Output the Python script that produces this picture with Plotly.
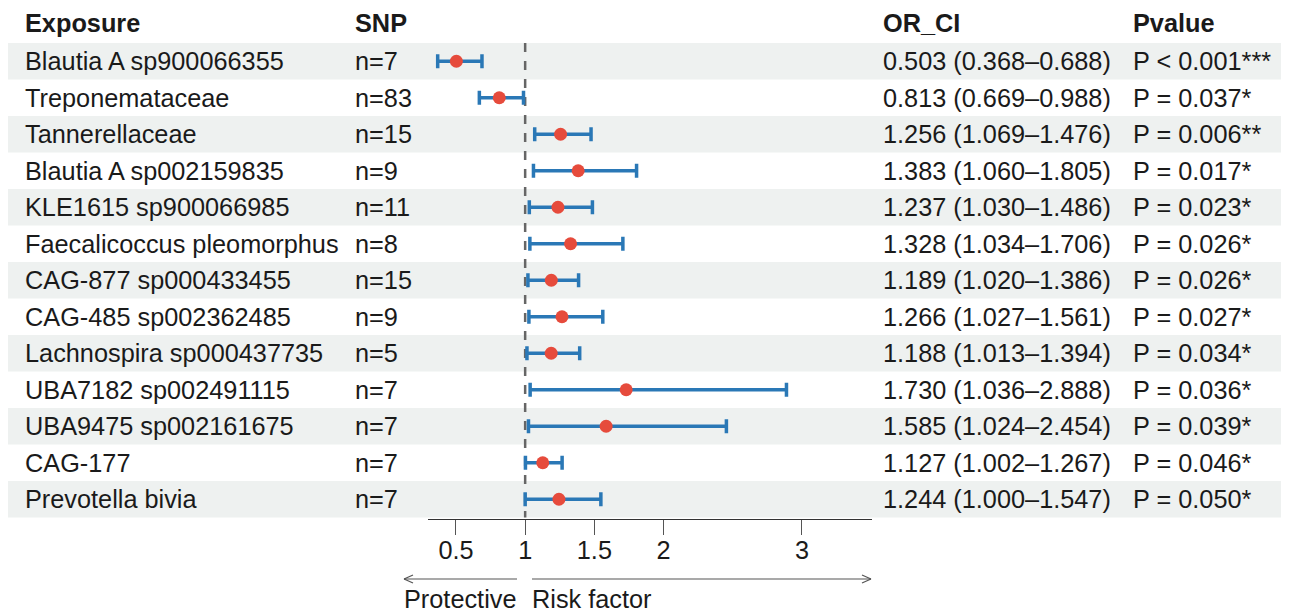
import plotly.graph_objects as go

exposure = ["Blautia A sp900066355", "Treponemataceae", "Tannerellaceae", "Blautia A sp002159835",
            "KLE1615 sp900066985", "Faecalicoccus pleomorphus", "CAG-877 sp000433455",
            "CAG-485 sp002362485", "Lachnospira sp000437735", "UBA7182 sp002491115",
            "UBA9475 sp002161675", "CAG-177", "Prevotella bivia"]
snp = [7, 83, 15, 9, 11, 8, 15, 9, 5, 7, 7, 7, 7]
or_val = [0.503, 0.813, 1.256, 1.383, 1.237, 1.328, 1.189, 1.266, 1.188, 1.730, 1.585, 1.127, 1.244]
ci_low = [0.368, 0.669, 1.069, 1.060, 1.030, 1.034, 1.020, 1.027, 1.013, 1.036, 1.024, 1.002, 1.000]
ci_high = [0.688, 0.988, 1.476, 1.805, 1.486, 1.706, 1.386, 1.561, 1.394, 2.888, 2.454, 1.267, 1.547]
pvalue_text = ["P < 0.001***", "P = 0.037*", "P = 0.006**", "P = 0.017*", "P = 0.023*", "P = 0.026*",
               "P = 0.026*", "P = 0.027*", "P = 0.034*", "P = 0.036*", "P = 0.039*", "P = 0.046*",
               "P = 0.050*"]
tick_vals = [0.5, 1, 1.5, 2, 3]
tick_text = ["0.5", "1", "1.5", "2", "3"]

OFF = 8  # page body margin
W, H = 1289 - OFF, 614 - OFF
PLOT_BOTTOM = 519 - OFF  # px in figure coords
FONT = "Liberation Sans, Arial, sans-serif"
FS = 25.3
TXT = "#1a1a1a"

def px(xp):  # page px -> paper
    return (xp - OFF) / W

def py(yp):
    return (PLOT_BOTTOM - (yp - OFF)) / PLOT_BOTTOM

n = len(exposure)
rows = list(range(1, n + 1))

fig = go.Figure()

shapes = []
for k in rows:
    if k % 2 == 1:
        shapes.append(dict(type="rect", xref="paper", yref="y", x0=px(7), x1=px(1285),
                           y0=k - 0.5, y1=k + 0.5, fillcolor="#EEF1F0", line_width=0, layer="below"))
shapes.append(dict(type="line", xref="x", yref="y", x0=1, x1=1, y0=0.5, y1=n + 0.5,
                   line=dict(color="#666666", width=2.5, dash="dash"), layer="below"))

arrow_y = 579
ac = "#555555"
def hline(x0, x1, y):
    return dict(type="line", xref="paper", yref="paper", x0=px(x0), x1=px(x1), y0=py(y), y1=py(y),
                line=dict(color=ac, width=1.2))
shapes.append(hline(404, 517, arrow_y))
shapes.append(hline(532, 871, arrow_y))
for (tip, d) in [(404, 1), (871, -1)]:
    for s in (-4, 4):
        shapes.append(dict(type="line", xref="paper", yref="paper", x0=px(tip), y0=py(arrow_y),
                           x1=px(tip + d * 9), y1=py(arrow_y + s), line=dict(color=ac, width=1.2)))

fig.add_trace(go.Scatter(
    x=or_val, y=rows, mode="markers",
    marker=dict(color="#E64B3C", size=13, line_width=0),
    error_x=dict(type="data", symmetric=False,
                 array=[h - o for h, o in zip(ci_high, or_val)],
                 arrayminus=[o - l for o, l in zip(or_val, ci_low)],
                 color="#2A78B6", thickness=3.5, width=7),
    showlegend=False, hoverinfo="skip"))

ann = []
def text(x, y, s, bold=False, yref="y"):
    ann.append(dict(xref="paper", yref=yref, x=px(x - 3), y=y, text=("<b>%s</b>" % s) if bold else s,
                    showarrow=False, xanchor="left", yanchor="middle",
                    font=dict(family=FONT, size=FS, color=TXT)))

hdr_y = -0.06
text(26, hdr_y, "Exposure", bold=True)
text(356, hdr_y, "SNP", bold=True)
text(884, hdr_y, "OR_CI", bold=True)
text(1134, hdr_y, "Pvalue", bold=True)
for k, e, s, o, l, h, p in zip(rows, exposure, snp, or_val, ci_low, ci_high, pvalue_text):
    text(26, k, e)
    text(356, k, "n=%d" % s)
    text(884, k, "%.3f (%.3f–%.3f)" % (o, l, h))
    text(1134, k, p)

text(405, py(599), "Protective", yref="paper")
text(533, py(599), "Risk factor", yref="paper")

row_h = 36.5
top0 = 43 - OFF
k_top = (0 - top0) / row_h + 0.5
k_bot = (PLOT_BOTTOM - top0) / row_h + 0.5

fig.update_layout(
    width=W, height=H, margin=dict(l=0, r=0, t=0, b=H - PLOT_BOTTOM),
    paper_bgcolor="white", plot_bgcolor="rgba(0,0,0,0)",
    shapes=shapes, annotations=ann,
    xaxis=dict(domain=[px(428), px(872)], range=[0.298, 3.506], tickvals=tick_vals, ticktext=tick_text,
               showgrid=False, zeroline=False, showline=True, linecolor="#333333", linewidth=1,
               ticks="outside", ticklen=15, tickcolor="#555555", tickwidth=1, ticklabelstandoff=-6,
               tickfont=dict(family=FONT, size=FS, color=TXT), fixedrange=True),
    yaxis=dict(range=[k_bot, k_top], visible=False, fixedrange=True),
)

fig.write_html("out.html")
